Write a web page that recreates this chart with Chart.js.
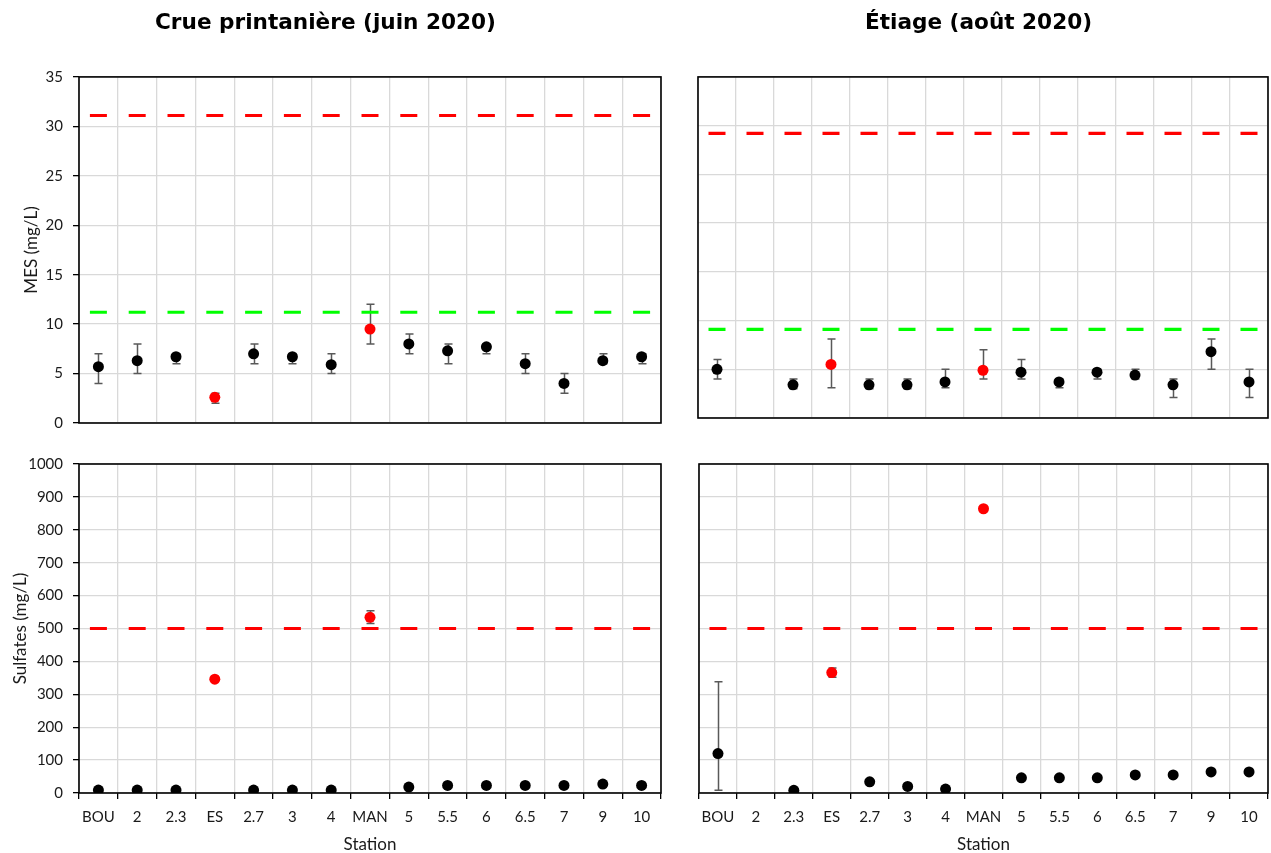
<!DOCTYPE html>
<html lang="fr">
<head>
<meta charset="utf-8">
<title>MES et sulfates par station – juin et août 2020</title>
<script src="https://cdn.jsdelivr.net/npm/chart.js@4.4.1/dist/chart.umd.min.js"></script>
<style>
  html, body { margin: 0; padding: 0; background: #ffffff; }
  body { width: 1271px; height: 853px; position: relative; overflow: hidden; }
  .panneau { position: absolute; }
</style>
</head>
<body>
<div class="panneau" id="p-tl" style="left:-10px; top:0; width:678px; height:442px;"><canvas id="mesJuinCanvas"></canvas></div>
<div class="panneau" id="p-tr" style="left:689px; top:0; width:582px; height:430px;"><canvas id="mesAoutCanvas"></canvas></div>
<div class="panneau" id="p-bl" style="left:0; top:440px; width:668px; height:413px;"><canvas id="sulfJuinCanvas"></canvas></div>
<div class="panneau" id="p-br" style="left:680px; top:440px; width:591px; height:413px;"><canvas id="sulfAoutCanvas"></canvas></div>

<script>
// Stations échantillonnées (amont → aval)
const stations = ['BOU', '2', '2.3', 'ES', '2.7', '3', '4', 'MAN', '5', '5.5', '6', '6.5', '7', '9', '10'];
// Affluents / effluents mis en évidence en rouge
const stationsEnRouge = ['ES', 'MAN'];

// MES (mg/L) – crue printanière, juin 2020 : moyenne, minimum, maximum
const mesJuin    = [5.7, 6.3, 6.7, 2.6, 7.0, 6.7, 5.9, 9.5, 8.0, 7.3, 7.7, 6.0, 4.0, 6.3, 6.7];
const mesJuinMin = [4.0, 5.0, 6.0, 2.0, 6.0, 6.0, 5.0, 8.0, 7.0, 6.0, 7.0, 5.0, 3.0, 6.0, 6.0];
const mesJuinMax = [7.0, 8.0, 7.0, 3.0, 8.0, 7.0, 7.0, 12.0, 9.0, 8.0, 8.0, 7.0, 5.0, 7.0, 7.0];

// MES (mg/L) – étiage, août 2020
const mesAout    = [5.0, null, 3.4, 5.5, 3.4, 3.4, 3.7, 4.9, 4.7, 3.7, 4.7, 4.4, 3.4, 6.8, 3.7];
const mesAoutMin = [4.0, null, 3.0, 3.1, 3.0, 3.0, 3.1, 4.0, 4.0, 3.1, 4.0, 4.0, 2.1, 5.0, 2.1];
const mesAoutMax = [6.0, null, 4.0, 8.1, 4.0, 4.0, 5.0, 7.0, 6.0, 4.0, 5.0, 5.0, 4.0, 8.1, 5.0];

// Sulfates (mg/L) – crue printanière, juin 2020
const sulfJuin    = [9, 9, 9, 346, 9, 9, 9, 534, 18, 23, 23, 23, 23, 27, 23];
const sulfJuinMin = [null, null, null, null, null, null, null, 515, null, null, null, null, null, null, null];
const sulfJuinMax = [null, null, null, null, null, null, null, 554, null, null, null, null, null, null, null];

// Sulfates (mg/L) – étiage, août 2020
const sulfAout    = [120, null, 8, 366, 34, 20, 12, 864, 46, 46, 46, 55, 55, 64, 64];
const sulfAoutMin = [8, null, null, 352, null, null, null, null, null, null, null, null, null, null, null];
const sulfAoutMax = [338, null, null, 380, null, null, null, null, null, null, null, null, null, null, null];

// Critères de qualité (lignes tiretées)
const critereMesJuinRouge = 31.1;
const critereMesJuinVert  = 11.2;
const critereMesAoutRouge = 29.2;
const critereMesAoutVert  = 9.1;
const critereSulfates     = 500;

// Axes verticaux
const mesAxe  = { min: 0, max: 35, pas: 5 };
const sulfAxe = { min: 0, max: 1000, pas: 100 };

const ROUGE = '#ff0000';
const VERT  = '#00ff00';
const NOIR  = '#000000';
const TEXTE = '#1a1a1a';
const GRILLE = '#d9d9d9';

// Barres d'erreur (min–max) tracées sous les points
const barresErreur = {
  id: 'barresErreur',
  beforeDatasetsDraw(chart) {
    const ds = chart.data.datasets[0];
    if (!ds.errBas) return;
    const sx = chart.scales.x, sy = chart.scales.y, ctx = chart.ctx;
    ctx.save();
    ctx.strokeStyle = '#595959';
    ctx.lineWidth = 1.5;
    ds.data.forEach((v, i) => {
      const lo = ds.errBas[i], hi = ds.errHaut[i];
      if (v == null || lo == null || hi == null) return;
      const px = Math.round(sx.getPixelForValue(i)) + 0.5;
      const yl = sy.getPixelForValue(lo), yh = sy.getPixelForValue(hi);
      ctx.beginPath();
      ctx.moveTo(px, yl); ctx.lineTo(px, yh);
      ctx.moveTo(px - 4, yl); ctx.lineTo(px + 4, yl);
      ctx.moveTo(px - 4, yh); ctx.lineTo(px + 4, yh);
      ctx.stroke();
    });
    ctx.restore();
  }
};

// Cadre noir autour de la zone de tracé
const cadre = {
  id: 'cadre',
  afterDatasetsDraw(chart) {
    const a = chart.chartArea, ctx = chart.ctx;
    ctx.save();
    ctx.strokeStyle = NOIR;
    ctx.lineWidth = 1.6;
    ctx.strokeRect(a.left, a.top, a.right - a.left, a.bottom - a.top);
    ctx.restore();
  }
};

function couleursPoints() {
  return stations.map(s => stationsEnRouge.includes(s) ? ROUGE : NOIR);
}

function jeuPoints(valeurs, bas, haut) {
  return {
    label: 'mesures',
    data: valeurs,
    errBas: bas,
    errHaut: haut,
    showLine: false,
    pointStyle: 'circle',
    pointRadius: 5.5,
    pointBackgroundColor: couleursPoints(),
    pointBorderColor: couleursPoints(),
    pointBorderWidth: 0,
    order: 0
  };
}

function jeuCritere(valeur, couleur) {
  return {
    label: 'critère',
    data: stations.map(() => valeur),
    showLine: false,
    pointStyle: 'line',
    pointRadius: 8.5,
    pointBorderColor: couleur,
    pointBackgroundColor: couleur,
    pointBorderWidth: 3.2,
    order: 1
  };
}

function creerGraphique(id, cfg) {
  const police = { family: 'Lato, "DejaVu Sans", sans-serif', size: 15 };
  new Chart(document.getElementById(id), {
    type: 'line',
    data: { labels: stations, datasets: cfg.datasets },
    options: {
      responsive: true,
      maintainAspectRatio: false,
      animation: false,
      events: [],
      layout: { padding: cfg.padding, autoPadding: false },
      plugins: {
        legend: { display: false },
        tooltip: { enabled: false },
        title: {
          display: !!cfg.titre,
          text: cfg.titre || '',
          color: NOIR,
          font: { family: '"DejaVu Sans", Verdana, sans-serif', size: 21.6, weight: 'bold', lineHeight: 1.2 },
          padding: { top: 10, bottom: 41 }
        }
      },
      scales: {
        x: {
          type: 'category',
          offset: true,
          grid: {
            offset: true,
            color: GRILLE,
            lineWidth: 1.3,
            drawTicks: cfg.etiquettesX,
            tickLength: 6,
            tickColor: NOIR,
            tickWidth: 1.3
          },
          border: { display: false },
          ticks: {
            display: cfg.etiquettesX,
            color: TEXTE,
            font: police,
            padding: 9,
            maxRotation: 0,
            autoSkip: false
          },
          title: {
            display: cfg.etiquettesX,
            text: 'Station',
            color: TEXTE,
            font: { family: police.family, size: 17, lineHeight: 1.0 },
            padding: { top: 0, bottom: 0 }
          },
          afterFit(s) { s.height = cfg.hauteurX; }
        },
        y: {
          min: cfg.axe.min,
          max: cfg.axe.max,
          grid: {
            color: GRILLE,
            lineWidth: 1.3,
            drawTicks: !!cfg.titreY,
            tickLength: 6,
            tickColor: NOIR,
            tickWidth: 1.3
          },
          border: { display: false },
          ticks: {
            display: !!cfg.titreY,
            stepSize: cfg.axe.pas,
            color: TEXTE,
            font: police,
            padding: 10,
            callback: v => String(v)
          },
          title: {
            display: !!cfg.titreY,
            text: cfg.titreY || '',
            color: TEXTE,
            font: { family: police.family, size: 17, lineHeight: 1.2 },
            padding: { top: cfg.decalTitreY || 0, bottom: 0 }
          },
          afterFit(s) { s.width = cfg.largeurY; }
        }
      }
    },
    plugins: [barresErreur, cadre]
  });
}

// MES – juin 2020
creerGraphique('mesJuinCanvas', {
  titre: 'Crue printanière (juin 2020)',
  titreY: 'MES (mg/L)',
  decalTitreY: 31,
  axe: mesAxe,
  etiquettesX: false,
  hauteurX: 8,
  largeurY: 89,
  padding: { left: 0, right: 7, top: 0, bottom: 0 },
  datasets: [
    jeuPoints(mesJuin, mesJuinMin, mesJuinMax),
    jeuCritere(critereMesJuinRouge, ROUGE),
    jeuCritere(critereMesJuinVert, VERT)
  ]
});

// MES – août 2020
creerGraphique('mesAoutCanvas', {
  titre: 'Étiage (août 2020)',
  titreY: null,
  axe: mesAxe,
  etiquettesX: false,
  hauteurX: 12,
  largeurY: 9,
  padding: { left: 0, right: 3, top: 0, bottom: 0 },
  datasets: [
    jeuPoints(mesAout, mesAoutMin, mesAoutMax),
    jeuCritere(critereMesAoutRouge, ROUGE),
    jeuCritere(critereMesAoutVert, VERT)
  ]
});

// Sulfates – juin 2020
creerGraphique('sulfJuinCanvas', {
  titre: null,
  titreY: 'Sulfates (mg/L)',
  decalTitreY: 10,
  axe: sulfAxe,
  etiquettesX: true,
  hauteurX: 60,
  largeurY: 79,
  padding: { left: 0, right: 7, top: 24, bottom: 0 },
  datasets: [
    jeuPoints(sulfJuin, sulfJuinMin, sulfJuinMax),
    jeuCritere(critereSulfates, ROUGE)
  ]
});

// Sulfates – août 2020
creerGraphique('sulfAoutCanvas', {
  titre: null,
  titreY: null,
  axe: sulfAxe,
  etiquettesX: true,
  hauteurX: 60,
  largeurY: 19,
  padding: { left: 0, right: 3, top: 24, bottom: 0 },
  datasets: [
    jeuPoints(sulfAout, sulfAoutMin, sulfAoutMax),
    jeuCritere(critereSulfates, ROUGE)
  ]
});
</script>
</body>
</html>
